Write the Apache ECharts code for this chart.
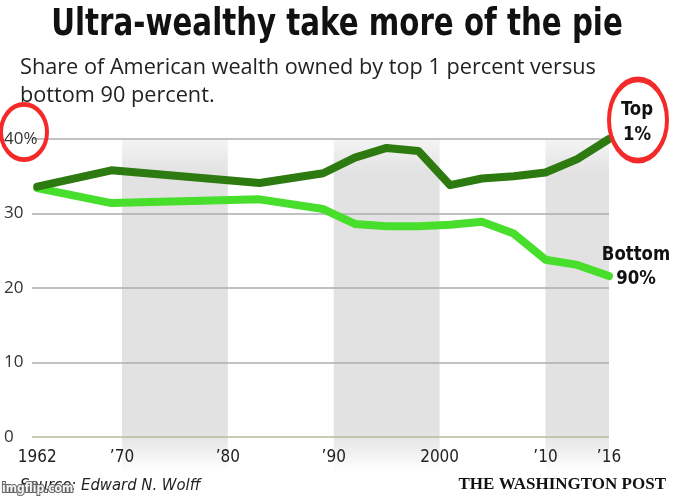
<!DOCTYPE html>
<html><head><meta charset="utf-8">
<script src="https://cdn.jsdelivr.net/npm/echarts@6/dist/echarts.min.js"></script>
<style>html,body{margin:0;padding:0;background:#fff}#c{width:674px;height:500px}</style>
</head><body><div id="c"></div>
<script>
const years = [1962,1969,1983,1989,1992,1995,1998,2001,2004,2007,2010,2013,2016];
const top1 = [33.6,35.8,34.1,35.4,37.5,38.8,38.4,33.8,34.7,35.0,35.5,37.3,40.0];
const bottom90 = [33.4,31.4,31.9,30.6,28.6,28.3,28.3,28.5,28.9,27.3,23.8,23.1,21.6];
const yTicks = [0,10,20,30,40];
const xTickLabels = {1962:'1962',1970:'\u201970',1980:'\u201980',1990:'\u201990',2000:'2000',2010:'\u201910',2016:'\u201916'};
const bands = [[1970,1980],[1990,2000],[2010,2016]];
const seriesNames = ['Top 1%','Bottom 90%'];

const NARROW = "'Liberation Sans Narrow','DejaVu Sans Condensed',sans-serif";
const chart = echarts.init(document.getElementById('c'));
const bandColor = {type:'linear',x:0,y:0,x2:0,y2:1,colorStops:[
  {offset:0,color:'#f4f4f4'},{offset:0.1,color:'#e2e2e2'},{offset:0.88,color:'#e2e2e2'},{offset:1,color:'#ffffff'}]};

chart.setOption({
  animation:false,
  backgroundColor:'#fff',
  grid:[
    {left:32,right:65,top:139,bottom:63},
    {left:32,right:65,top:140,bottom:28}
  ],
  xAxis:[
    {type:'value',gridIndex:0,min:1961.5,max:2016,interval:0.5,z:10,
     splitLine:{show:false},axisLine:{show:false},axisTick:{show:false},
     axisLabel:{margin:12,fontSize:17,color:'#222',fontFamily:NARROW,hideOverlap:false,
       formatter:v=>xTickLabels[v]||''}},
    {type:'value',gridIndex:1,min:1961.5,max:2016,show:false}
  ],
  yAxis:[
    {type:'value',gridIndex:0,min:0,max:40,interval:10,
     axisLine:{show:false},axisTick:{show:false},
     splitLine:{show:true,lineStyle:{color:['#b7baa2','#a8aeae','#a8aeae','#a8aeae','#a8aeae'],width:1.5}},
     axisLabel:{align:'left',margin:28,fontSize:17,color:'#333',fontFamily:"'Open Sans',sans-serif",
       formatter:v=>v===40?'40%':String(v)}},
    {type:'value',gridIndex:1,min:0,max:1,show:false}
  ],
  series:[
    {type:'line',xAxisIndex:1,yAxisIndex:1,z:-1,silent:true,symbol:'none',
     data:[[1962,0],[2016,0]],lineStyle:{width:0,opacity:0},
     markArea:{silent:true,z:-1,itemStyle:{color:bandColor},
       data:bands.map(b=>[{xAxis:b[0]},{xAxis:b[1]}])}},
    {name:seriesNames[1],type:'line',symbol:'none',z:3,
     data:years.map((y,i)=>[y,bottom90[i]]),
     lineStyle:{color:'#48de2c',width:8,cap:'round',join:'round'}},
    {name:seriesNames[0],type:'line',symbol:'none',z:4,
     data:years.map((y,i)=>[y,top1[i]]),
     lineStyle:{color:'#2d7a10',width:8,cap:'round',join:'round'}}
  ],
  graphic:[
    {type:'text',x:337,y:7,scaleX:0.88,z:100,style:{text:'Ultra-wealthy take more of the pie',align:'center',fontSize:37,fontWeight:'bold',fill:'#111',fontFamily:NARROW}},
    {type:'text',left:20,top:54,z:100,style:{text:'Share of American wealth owned by top 1 percent versus\nbottom 90 percent.',fontSize:21.7,lineHeight:28,fill:'#222',fontFamily:"'Open Sans',sans-serif"}},
    {type:'text',x:637,y:97,z:100,scaleX:0.92,style:{text:'Top\n1%',align:'center',fontSize:20,lineHeight:25,fontWeight:'bold',fill:'#111',fontFamily:NARROW}},
    {type:'text',x:636,y:243,z:100,scaleX:0.92,style:{text:'Bottom\n90%',align:'center',fontSize:20,lineHeight:24,fontWeight:'bold',fill:'#111',fontFamily:NARROW}},
    {type:'circle',x:24,y:132,scaleY:1.2,z:100,shape:{cx:0,cy:0,r:23},style:{fill:null,stroke:'#f42a2a',lineWidth:4,strokeNoScale:true}},
    {type:'circle',x:638,y:120,scaleY:1.4,z:100,shape:{cx:0,cy:0,r:29},style:{fill:null,stroke:'#f42a2a',lineWidth:4,strokeNoScale:true}},
    {type:'text',left:20,top:477,z:100,style:{text:'Source: Edward N. Wolff',fontSize:16.5,fontStyle:'italic',fill:'#222',fontFamily:NARROW}},
    {type:'text',right:8,top:476,z:100,style:{text:'THE WASHINGTON POST',fontSize:17,fontWeight:'bold',fill:'#111',fontFamily:"'Liberation Serif','DejaVu Serif',serif"}},
    {type:'text',left:1,top:482,z:101,style:{text:'imgflip.com',fontSize:12,fontWeight:'bold',fill:'#f4f4f4',stroke:'#666',lineWidth:2,fontFamily:NARROW}}
  ]
});
</script></body></html>
